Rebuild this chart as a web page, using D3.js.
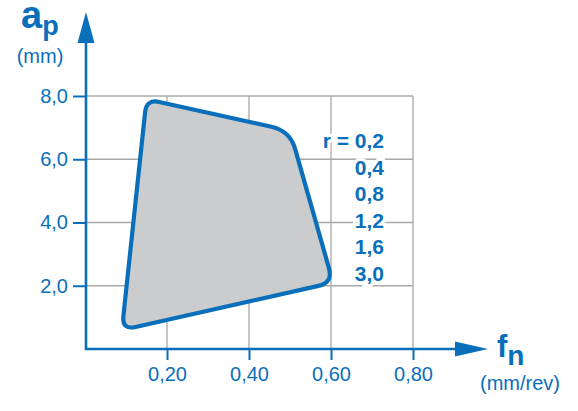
<!DOCTYPE html>
<html><head><meta charset="utf-8">
<script src="https://cdn.jsdelivr.net/npm/d3@7"></script>
<style>
html,body{margin:0;padding:0;background:#fff;}
svg{display:block;font-family:"Liberation Sans",Arial,Helvetica,sans-serif;}
</style></head>
<body>
<script>
// Data
const feedTicks = [0.2, 0.4, 0.6, 0.8];
const depthTicks = [2, 4, 6, 8];
const regionFeed = [0.15, 0.50, 0.605, 0.09];   // f_n (mm/rev)
const regionDepth = [7.9, 6.9, 2.1, 0.6];       // a_p (mm)
const radiusLabels = ["r = 0,2", "0,4", "0,8", "1,2", "1,6", "3,0"];

const W = 578, H = 411;
const blue = "#0a6fba", grid = "#a8a8a8", fill = "#cbccce";

const svg = d3.select("body").append("svg").attr("width", W).attr("height", H);

const x = d3.scaleLinear().domain([0, 0.8]).range([85, 413]);
const y = d3.scaleLinear().domain([0, 8]).range([349, 96]);
const comma = f => v => d3.format(f)(v).replace(".", ",");

// grid
svg.append("g").selectAll("line").data(feedTicks).join("line")
  .attr("x1", d => x(d)).attr("x2", d => x(d)).attr("y1", y(8)).attr("y2", y(0))
  .attr("stroke", grid).attr("stroke-width", 1.3);
svg.append("g").selectAll("line").data(depthTicks).join("line")
  .attr("x1", x(0)).attr("x2", x(0.8)).attr("y1", d => y(d)).attr("y2", d => y(d))
  .attr("stroke", grid).attr("stroke-width", 1.3);

// rounded polygon
const pts = regionFeed.map((f, i) => [x(f), y(regionDepth[i])]);
const radii = [13, 19, 15, 14];
function roundedPath(p, r) {
  const n = p.length; let s = "";
  for (let i = 0; i < n; i++) {
    const v = p[i], a = p[(i - 1 + n) % n], b = p[(i + 1) % n];
    const da = Math.hypot(a[0]-v[0], a[1]-v[1]), db = Math.hypot(b[0]-v[0], b[1]-v[1]);
    const pa = [v[0] + (a[0]-v[0]) * r[i] / da, v[1] + (a[1]-v[1]) * r[i] / da];
    const pb = [v[0] + (b[0]-v[0]) * r[i] / db, v[1] + (b[1]-v[1]) * r[i] / db];
    s += (i === 0 ? "M" : "L") + pa[0] + "," + pa[1] + "Q" + v[0] + "," + v[1] + " " + pb[0] + "," + pb[1];
  }
  return s + "Z";
}
svg.append("path").attr("d", roundedPath(pts, radii))
  .attr("fill", fill).attr("stroke", blue).attr("stroke-width", 4.2).attr("stroke-linejoin", "round");

// axes ticks
const yAxis = svg.append("g").attr("transform", `translate(${x(0)+1},0)`)
  .call(d3.axisLeft(y).tickValues(depthTicks).tickSize(13).tickPadding(5).tickFormat(comma(".1f")));
const xAxis = svg.append("g").attr("transform", `translate(0,${y(0)})`)
  .call(d3.axisBottom(x).tickValues(feedTicks).tickSize(11).tickPadding(7).tickFormat(comma(".2f")));
[yAxis, xAxis].forEach(g => {
  g.select(".domain").remove();
  g.selectAll("line").attr("stroke", blue).attr("stroke-width", 2);
  g.selectAll("text").attr("fill", blue).style("font-size", "20px")
    .style("font-family", '"Liberation Sans",Arial,sans-serif');
});

// axis lines with arrows
svg.append("line").attr("x1", 86).attr("x2", 86).attr("y1", 350).attr("y2", 40)
  .attr("stroke", blue).attr("stroke-width", 2.6);
svg.append("path").attr("d", "M86,12 L77.5,43 L94.5,43 Z").attr("fill", blue);
svg.append("line").attr("x1", 85).attr("x2", 460).attr("y1", 349).attr("y2", 349)
  .attr("stroke", blue).attr("stroke-width", 2.6);
svg.append("path").attr("d", "M488,349 L455,341.5 L455,356.5 Z").attr("fill", blue);

// axis titles
const ta = svg.append("text").attr("x", 21).attr("y", 28).attr("fill", blue).attr("font-weight", "bold");
ta.append("tspan").style("font-size", "38px").text("a");
ta.append("tspan").style("font-size", "27px").attr("dy", 7).text("p");
svg.append("text").attr("x", 40).attr("y", 63).attr("text-anchor", "middle").attr("fill", blue)
  .style("font-size", "20px").text("(mm)");
const tf = svg.append("text").attr("x", 497).attr("y", 357).attr("fill", blue).attr("font-weight", "bold");
tf.append("tspan").style("font-size", "31px").text("f");
tf.append("tspan").style("font-size", "28px").attr("dy", 8).text("n");
svg.append("text").attr("x", 520).attr("y", 390).attr("text-anchor", "middle").attr("fill", blue)
  .style("font-size", "20px").text("(mm/rev)");

// radius legend
svg.append("g").selectAll("text").data(radiusLabels).join("text")
  .attr("x", 384).attr("y", (d, i) => 148 + i * 26.6).attr("text-anchor", "end")
  .attr("fill", blue).attr("font-weight", "bold").style("font-size", "21px")
  .attr("stroke", "#fff").attr("stroke-width", 6).attr("paint-order", "stroke")
  .text(d => d);
</script>
</body></html>
